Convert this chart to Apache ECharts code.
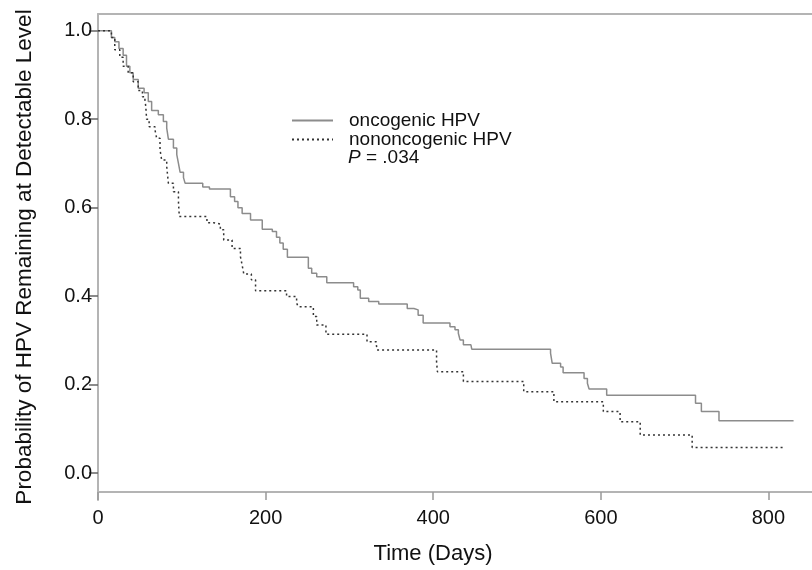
<!DOCTYPE html>
<html>
<head>
<meta charset="utf-8">
<script src="https://cdn.jsdelivr.net/npm/echarts@6/dist/echarts.min.js"></script>
<style>
html,body{margin:0;padding:0;background:#fff;}
#chart{width:812px;height:570px;}
</style>
</head>
<body>
<div id="chart"></div>
<script>
// Kaplan-Meier style step data: [day, probability]
const oncogenic = [
  [0,1.0],[16,0.985],[20,0.975],[25,0.96],[30,0.945],[34,0.92],[38,0.905],[42,0.89],[48,0.87],[55,0.86],
  [60,0.84],[64,0.82],[72,0.81],[78,0.795],[82,0.78],[84,0.755],[90,0.735],[94,0.72],[96,0.70],[98,0.68],
  [102,0.668],[104,0.655],[125,0.647],[133,0.642],[158,0.625],[163,0.614],[167,0.6],[172,0.587],[182,0.572],
  [196,0.551],[208,0.546],[213,0.533],[217,0.52],[221,0.506],[226,0.488],[251,0.463],[255,0.452],[261,0.444],
  [273,0.43],[305,0.421],[310,0.414],[313,0.395],[323,0.388],[335,0.382],[369,0.372],[377,0.369],[382,0.357],
  [388,0.339],[420,0.331],[426,0.324],[430,0.316],[432,0.301],[436,0.29],[445,0.286],[446,0.28],[540,0.271],
  [542,0.248],[552,0.24],[555,0.227],[580,0.214],[584,0.203],[586,0.19],[607,0.176],[713,0.158],[720,0.139],
  [741,0.118],[830,0.118]
];
const nononcogenic = [
  [0,1.0],[16,0.985],[20,0.957],[26,0.94],[30,0.92],[36,0.905],[42,0.885],[48,0.865],[53,0.851],[56,0.844],
  [57,0.829],[58,0.80],[61,0.783],[68,0.776],[70,0.757],[74,0.731],[76,0.708],[82,0.693],[84,0.655],[90,0.636],
  [96,0.614],[97,0.58],[130,0.566],[138,0.563],[146,0.55],[150,0.527],[160,0.508],[170,0.489],[172,0.47],
  [174,0.45],[183,0.437],[188,0.412],[225,0.399],[237,0.384],[239,0.376],[257,0.354],[261,0.335],[272,0.314],
  [321,0.297],[332,0.292],[333,0.278],[404,0.252],[405,0.229],[436,0.207],[508,0.184],[544,0.161],[603,0.139],
  [623,0.116],[647,0.086],[709,0.058],[818,0.058]
];
const seriesNames = ['oncogenic HPV', 'nononcogenic HPV'];
const xTicks = [0, 200, 400, 600, 800];
const yTicks = [0, 0.2, 0.4, 0.6, 0.8, 1.0];
const pValueText = ' = .034';

const font = 'Liberation Sans, Arial, Helvetica, sans-serif';
const axisGray = '#b4b4b4';
const chart = echarts.init(document.getElementById('chart'), null, {renderer: 'canvas'});
chart.setOption({
  animation: false,
  backgroundColor: '#fff',
  textStyle: {fontFamily: font},
  grid: {left: 98, right: 0, top: 14, bottom: 70},
  title: {
    text: '{i|P}' + pValueText,
    left: 343, top: 143,
    textStyle: {
      fontFamily: font, fontSize: 19, fontWeight: 'normal', color: '#111',
      rich: {i: {fontFamily: font, fontSize: 19, fontStyle: 'italic', color: '#111'}}
    }
  },
  legend: {
    orient: 'vertical', left: 286, top: 106,
    itemWidth: 41, itemHeight: 14, itemGap: 0,
    itemStyle: {opacity: 0},
    textStyle: {fontFamily: font, fontSize: 19, lineHeight: 18, color: '#111', padding: [0, 0, 0, 11]},
    data: seriesNames
  },
  xAxis: [{
    type: 'value', min: 0, max: 852, offset: -8,
    name: 'Time (Days)', nameLocation: 'middle', nameGap: 51,
    nameTextStyle: {fontFamily: font, fontSize: 22, color: '#111', padding: [0, 44, 0, 0]},
    axisLine: {show: true, onZero: false, lineStyle: {color: axisGray, width: 2}},
    axisTick: {show: true, inside: false, length: 8, lineStyle: {color: '#999', width: 1.5}, customValues: xTicks},
    axisLabel: {customValues: xTicks, fontFamily: font, fontSize: 20, color: '#111', margin: 16},
    splitLine: {show: false}
  }, {
    type: 'value', position: 'top', min: 0, max: 852,
    axisLine: {show: true, onZero: false, lineStyle: {color: axisGray, width: 2}},
    axisTick: {show: false}, axisLabel: {show: false}, splitLine: {show: false}
  }],
  yAxis: {
    type: 'value', min: -0.061, max: 1.038,
    name: 'Probability of HPV Remaining at Detectable Level',
    nameLocation: 'middle', nameGap: 62,
    nameTextStyle: {fontFamily: font, fontSize: 22.5, color: '#111'},
    axisLine: {show: true, onZero: false, lineStyle: {color: axisGray, width: 2}},
    axisTick: {show: true, inside: false, length: 9, lineStyle: {color: '#666', width: 1.5}, customValues: yTicks},
    axisLabel: {customValues: yTicks, fontFamily: font, fontSize: 20, color: '#111', margin: 6,
      formatter: v => v.toFixed(1)},
    splitLine: {show: false}
  },
  series: [{
    name: seriesNames[0], type: 'line', step: 'end', symbol: 'none',
    data: oncogenic,
    lineStyle: {color: '#8c8c8c', width: 1.5, type: 'solid'},
    itemStyle: {color: '#8c8c8c'}
  }, {
    name: seriesNames[1], type: 'line', step: 'end', symbol: 'none',
    data: nononcogenic,
    lineStyle: {color: '#333', width: 1.5, type: [2, 3]},
    itemStyle: {color: '#333'}
  }]
});
</script>
</body>
</html>
